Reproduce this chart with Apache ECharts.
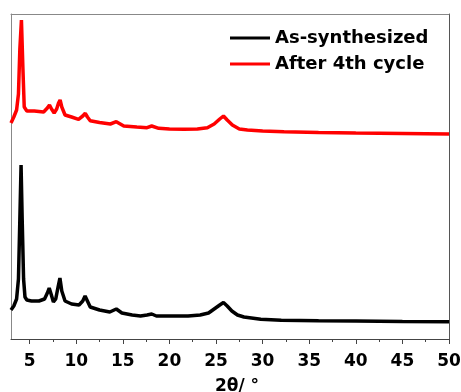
<!DOCTYPE html>
<html>
<head>
<meta charset="utf-8">
<script src="https://cdn.jsdelivr.net/npm/echarts@6/dist/echarts.min.js"></script>
<style>html,body{margin:0;padding:0;background:#fff}#c{width:461px;height:392px}</style>
</head>
<body>
<div id="c"></div>
<script>
// 2θ positions and (offset) intensities
const asSynthesized = [
  [3.0,29],[3.3,33],[3.6,40],[3.8,60],[3.95,120],[4.08,174],[4.2,120],[4.35,60],[4.5,42],[4.7,39],
  [5.2,38],[6.0,38],[6.6,40],[6.9,46],[7.1,51],[7.3,45],[7.55,37],[7.8,40],[8.05,52],[8.25,61],
  [8.45,48],[8.8,38],[9.5,35],[10.3,34],[10.7,38],[10.95,43],[11.2,38],[11.5,32],[12.5,29],[13.6,27],
  [14.3,30],[14.9,26],[16,24],[16.9,23],[17.6,24],[18.1,25],[18.6,23],[19.5,23],[20.5,23],[22,23],
  [23.3,24],[24.2,26],[24.8,30],[25.4,34],[25.8,36.5],[26.2,33],[26.7,28],[27.3,24],[28,22],[29.8,19.7],
  [32,18.8],[36,18.3],[40,18],[45,17.6],[50,17.3]
];
const after4thCycle = [
  [3.0,216],[3.3,222],[3.6,229],[3.8,245],[3.95,290],[4.12,319],[4.28,270],[4.42,232],[4.7,228],
  [5.5,228],[6.5,227],[6.9,231],[7.13,234],[7.35,230],[7.63,226],[7.9,230],[8.1,236],[8.27,239],
  [8.45,232],[8.8,224],[9.5,222],[10.25,219.7],[10.7,223],[10.97,225.7],[11.2,222],[11.5,218.3],
  [12.5,216.5],[13.66,215],[14.3,217.3],[15.1,213],[16.5,212],[17.6,211.3],[18.1,213],[18.85,210.7],
  [20,210],[21.55,209.7],[23,210],[24.07,211.3],[24.8,215],[25.4,220],[25.8,223],[26.2,219],
  [26.75,214],[27.5,210],[28.37,209],[30,208],[32.3,207.3],[36,206.5],[40,206],[45,205.5],[50,205]
];
const seriesNames = ['As-synthesized', 'After 4th cycle'];
const majorTicks = [5,10,15,20,25,30,35,40,45,50];
const minorTicks = [7.5,12.5,17.5,22.5,27.5,32.5,37.5,42.5,47.5];
const xTitle = '2θ/ °';

const font = 'DejaVu Sans';
const chart = echarts.init(document.getElementById('c'), null, {renderer: 'canvas'});
chart.setOption({
  animation: false,
  backgroundColor: '#fff',
  grid: {left: 11, right: 12, top: 14, bottom: 53, containLabel: false, outerBoundsMode: 'none'},
  legend: {
    orient: 'vertical', left: 230, top: 29, itemWidth: 40, itemHeight: 3, itemGap: 8, padding: 0,
    icon: 'rect',
    textStyle: {fontFamily: font, fontWeight: 'bold', fontSize: 18, color: '#000'},
    data: seriesNames
  },
  xAxis: [
    {
      type: 'value', min: 3, max: 50, position: 'bottom',
      name: xTitle, nameLocation: 'middle', nameGap: 39,
      nameTextStyle: {fontFamily: font, fontWeight: 'bold', fontSize: 17, color: '#000', padding: [0,0,0,14]},
      axisLine: {lineStyle: {color: '#444', width: 1}},
      axisTick: {show: true, inside: false, length: 5, customValues: majorTicks, lineStyle: {color: '#444'}},
      axisLabel: {customValues: majorTicks, margin: 14, fontFamily: font, fontWeight: 'bold', fontSize: 17, color: '#000'},
      splitLine: {show: false}
    },
    {
      type: 'value', min: 3, max: 50, position: 'bottom',
      axisLine: {show: false},
      axisTick: {show: true, inside: false, length: 3, customValues: minorTicks, lineStyle: {color: '#444'}},
      axisLabel: {show: false, customValues: minorTicks},
      splitLine: {show: false}
    },
    {
      type: 'value', min: 3, max: 50, position: 'top',
      axisLine: {show: true, lineStyle: {color: '#888', width: 1}},
      axisTick: {show: false}, axisLabel: {show: false}, splitLine: {show: false}
    }
  ],
  yAxis: [
    {
      type: 'value', min: 0, max: 325, position: 'left',
      axisLine: {show: true, lineStyle: {color: '#888', width: 1}},
      axisTick: {show: false}, axisLabel: {show: false}, splitLine: {show: false}
    },
    {
      type: 'value', min: 0, max: 325, position: 'right',
      axisLine: {show: true, lineStyle: {color: '#555', width: 1}},
      axisTick: {show: false}, axisLabel: {show: false}, splitLine: {show: false}
    }
  ],
  series: [
    {name: seriesNames[0], type: 'line', data: asSynthesized, showSymbol: false, symbol: 'none',
     color: '#000', lineStyle: {color: '#000', width: 3.5}},
    {name: seriesNames[1], type: 'line', data: after4thCycle, showSymbol: false, symbol: 'none',
     color: '#ff0000', lineStyle: {color: '#ff0000', width: 3.5}}
  ]
});
</script>
</body>
</html>
